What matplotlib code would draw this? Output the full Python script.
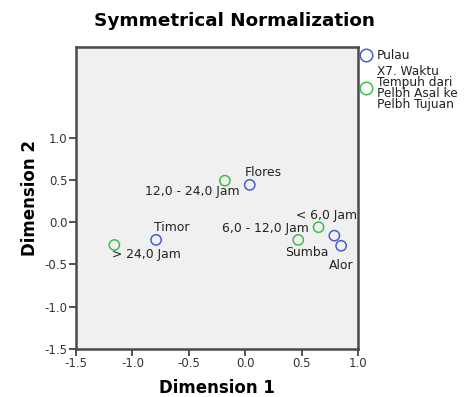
import matplotlib.pyplot as plt
from matplotlib.lines import Line2D

plt.rcParams['font.family'] = ['DejaVu Sans']
plt.rcParams['axes.unicode_minus'] = False

# category points (Dimension 1, Dimension 2)
pulau_names = ['Flores', 'Timor', 'Sumba', 'Alor']
pulau_x = [0.04, -0.79, 0.79, 0.85]
pulau_y = [0.44, -0.21, -0.16, -0.28]

waktu_names = ['12,0 - 24,0 Jam', '> 24,0 Jam', '< 6,0 Jam', '6,0 - 12,0 Jam']
waktu_x = [-0.18, -1.16, 0.65, 0.47]
waktu_y = [0.49, -0.27, -0.06, -0.21]

# label placement: (dx px, dy px, ha)
pulau_off = [(-5, 12, 'left'), (-2, 12, 'left'), (-6, -17, 'right'), (12, -20, 'right')]
waktu_off = [(15, -11, 'right'), (-2, -10, 'left'), (39, 12, 'right'), (11, 11, 'right')]

blue = '#4a5fc4'
green = '#3cbf4a'

fig = plt.figure(figsize=(4.67, 3.97), dpi=100)
ax = fig.add_axes([0.1627, 0.1209, 0.604, 0.7607])
ax.set_facecolor('#f0f0f0')

ax.scatter(pulau_x, pulau_y, s=55, facecolors='none', edgecolors=blue, linewidths=1.1, zorder=3)
ax.scatter(waktu_x, waktu_y, s=55, facecolors='none', edgecolors=green, linewidths=1.1, zorder=3)

for names, xs, ys, offs in [(pulau_names, pulau_x, pulau_y, pulau_off),
                            (waktu_names, waktu_x, waktu_y, waktu_off)]:
    for n, x, y, (dx, dy, ha) in zip(names, xs, ys, offs):
        ax.annotate(n, (x, y), xytext=(dx, dy), textcoords='offset pixels',
                    ha=ha, va='center', fontsize=8.9, color='#222222')

ax.set_xlim(-1.5, 1.0)
ax.set_ylim(-1.5, 2.07)
ax.set_xticks([-1.5, -1.0, -0.5, 0.0, 0.5, 1.0])
ax.set_yticks([-1.5, -1.0, -0.5, 0.0, 0.5, 1.0])
ax.tick_params(direction='out', length=5, width=1.2, color='#333333',
               labelsize=8.5, labelcolor='#333333', pad=1)
for s in ax.spines.values():
    s.set_linewidth(1.8)
    s.set_color('#4a4a4a')

ax.set_xlabel('Dimension 1', fontsize=12, fontweight='bold', labelpad=6)
ax.set_ylabel('Dimension 2', fontsize=12, fontweight='bold', labelpad=4)
fig.text(0.501, 0.948, 'Symmetrical Normalization', ha='center', va='center',
         fontsize=13.2, fontweight='bold')

handles = [Line2D([], [], marker='o', ls='none', markersize=9, markerfacecolor='none',
                  markeredgecolor=blue, markeredgewidth=1.1),
           Line2D([], [], marker='o', ls='none', markersize=9, markerfacecolor='none',
                  markeredgecolor=green, markeredgewidth=1.1)]
labels = ['Pulau', 'X7. Waktu\nTempuh dari\nPelbh Asal ke\nPelbh Tujuan']
leg = ax.legend(handles, labels, loc='upper left', bbox_to_anchor=(1.01, 0.993), frameon=False,
                borderaxespad=0, borderpad=0, handlelength=0.8, handletextpad=0.5,
                labelspacing=0.2, fontsize=8.7, labelcolor='#222222')
for t in leg.get_texts():
    t.set_linespacing(0.8)

fig.savefig('out.png', dpi=100)
